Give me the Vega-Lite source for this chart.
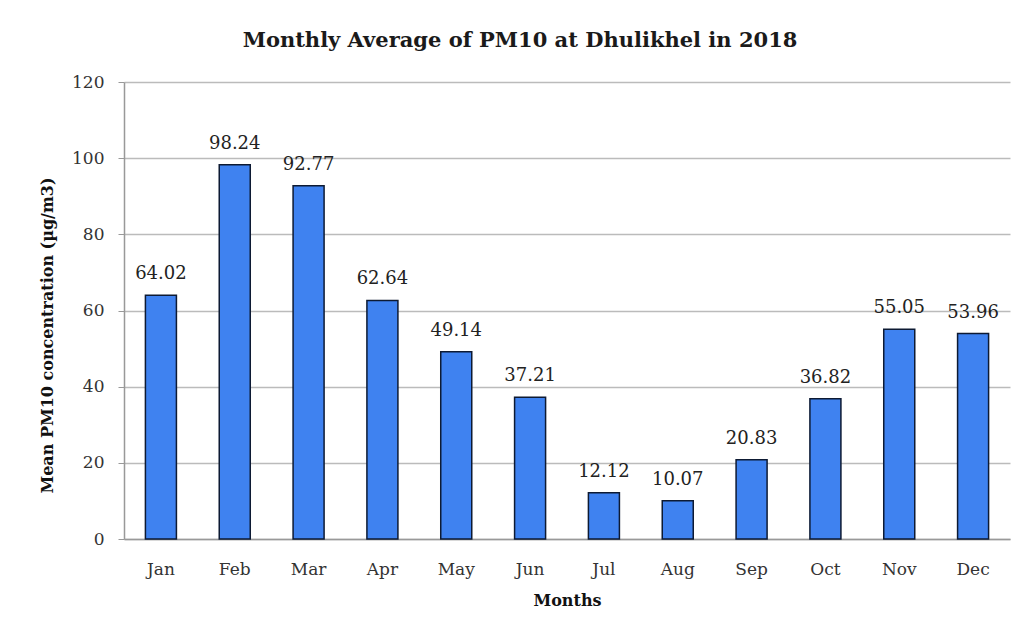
{
  "$schema": "https://vega.github.io/schema/vega-lite/v6.json",
  "autosize": {"type": "none"},
  "width": 886,
  "height": 457,
  "padding": {"left": 124, "top": 82, "right": 15, "bottom": 96},
  "background": "white",
  "config": {
    "view": {"stroke": null},
    "font": "DejaVu Serif",
    "axis": {"labelFont": "DejaVu Serif", "titleFont": "DejaVu Serif", "labelColor": "#333333", "titleColor": "#111111"}
  },
  "title": {
    "text": "Monthly Average of PM10 at Dhulikhel in 2018",
    "font": "DejaVu Serif",
    "fontSize": 21,
    "fontWeight": "bold",
    "color": "#1a1a1a",
    "offset": 22,
    "dx": -47,
    "anchor": "middle"
  },
  "data": {
    "values": [
      {"month": "Jan", "pm10": 64.02},
      {"month": "Feb", "pm10": 98.24},
      {"month": "Mar", "pm10": 92.77},
      {"month": "Apr", "pm10": 62.64},
      {"month": "May", "pm10": 49.14},
      {"month": "Jun", "pm10": 37.21},
      {"month": "Jul", "pm10": 12.12},
      {"month": "Aug", "pm10": 10.07},
      {"month": "Sep", "pm10": 20.83},
      {"month": "Oct", "pm10": 36.82},
      {"month": "Nov", "pm10": 55.05},
      {"month": "Dec", "pm10": 53.96}
    ]
  },
  "encoding": {
    "x": {
      "field": "month",
      "type": "nominal",
      "sort": null,
      "scale": {"paddingInner": 0.58, "paddingOuter": 0.29},
      "axis": {
        "title": "Months",
        "titleFontSize": 16,
        "titleFontWeight": "bold",
        "titlePadding": 15,
        "labelFontSize": 17,
        "labelAngle": 0,
        "labelPadding": 22,
        "ticks": false,
        "domainColor": "#999999",
        "domainWidth": 1.5
      }
    },
    "y": {
      "field": "pm10",
      "type": "quantitative",
      "scale": {"domain": [0, 120], "nice": false},
      "axis": {
        "title": "Mean PM10 concentration (µg/m3)",
        "titleFontSize": 16,
        "titleFontWeight": "bold",
        "titlePadding": 16,
        "titleY": 253,
        "labelFontSize": 17,
        "labelPadding": 14,
        "values": [0, 20, 40, 60, 80, 100, 120],
        "tickSize": 6,
        "tickColor": "#999999",
        "gridColor": "#bbbbbb",
        "gridWidth": 1.5,
        "domainColor": "#999999",
        "domainWidth": 1.5
      }
    }
  },
  "layer": [
    {
      "mark": {"type": "bar", "fill": "#3f82f0", "stroke": "#0d1a33", "strokeWidth": 1.5}
    },
    {
      "mark": {"type": "text", "dy": -21, "fontSize": 18, "color": "#222222", "font": "DejaVu Serif"},
      "encoding": {"text": {"field": "pm10", "type": "quantitative", "format": ".2f"}}
    }
  ]
}
